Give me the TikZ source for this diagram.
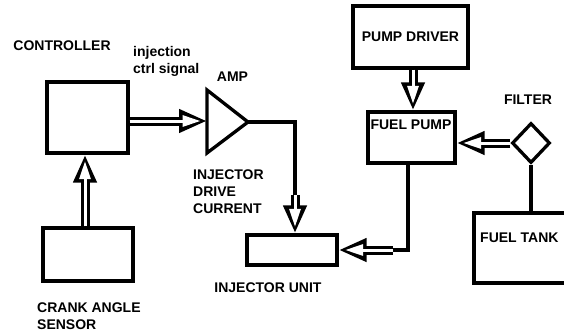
\documentclass[tikz,border=0pt]{standalone}
\usepackage{fontspec}
\setmainfont{Liberation Sans}
\usetikzlibrary{arrows.meta,shapes.geometric}

\begin{document}
\begin{tikzpicture}[x=1pt,y=-1pt,
  box/.style={draw, line width=3.3pt, inner sep=0pt},
  lbl/.style={font=\fontsize{14}{17}\selectfont\bfseries, inner sep=0pt, align=left},
  wire/.style={line width=3.3pt},
  hollow/.style={line width=9pt, -{Triangle[length=28pt, width=22pt]},
    postaction={draw=white, line width=3pt, shorten >=6.5pt, -{Triangle[length=18pt, width=11pt]}}}]
  \useasboundingbox (0,0) rectangle (564,335);
  % blocks
  \node[box, minimum width=81, minimum height=71] (ctrl) at (87.5,117.5) {};
  \node[box, minimum width=90, minimum height=53] (sensor) at (88,254.5) {};
  \node[box, minimum width=90, minimum height=30] (inj) at (292,250) {};
  \node[box, minimum width=115, minimum height=62, lbl] (drv) at (410.5,37) {PUMP DRIVER};
  \node[box, minimum width=87, minimum height=51] (pump) at (411.5,137.5) {};
  \node[box, minimum width=101, minimum height=70] (tank) at (524.5,248) {};
  \node[draw, diamond, aspect=1, line width=3.3pt, inner sep=0pt, minimum width=38, minimum height=40] (filter) at (531,143) {};
  % amplifier
  \draw[line width=3.3pt, line join=miter] (207,90) -- (248,122) coordinate (ampout) -- (207,153) -- cycle;
  \coordinate (ampin) at (207,121);
  % texts
  \node[lbl] (ctrltxt) at (62,46) {CONTROLLER};
  \node[lbl, anchor=west] (sigtxt) at (133,61.5) {injection\\ctrl signal};
  \node[lbl] (amptxt) at (232.5,77) {AMP};
  \node[lbl, anchor=west] (drvtxt) at (193,192) {INJECTOR\\DRIVE\\CURRENT};
  \node[lbl] (injtxt) at (268,288) {INJECTOR UNIT};
  \node[lbl, anchor=west] (senstxt) at (37,316.5) {CRANK ANGLE\\SENSOR};
  \node[lbl] (filtxt) at (528,100) {FILTER};
  \node[lbl] (pumptxt) at (411,125) {FUEL PUMP};
  \node[lbl, anchor=west] (tanktxt) at (480,238) {FUEL TANK};
  % connections
  \draw[hollow] (ctrl.east |- ampin) -- (ampin);
  \draw[hollow] (sensor.north -| 85,0) -- (ctrl.south -| 85,0);
  \coordinate (bend1) at (295,195);
  \draw[wire] (ampout) -| (bend1);
  \draw[hollow] (bend1) -- (bend1 |- inj.north);
  \draw[hollow] (drv.south -| 413,0) -- (pump.north -| 413,0);
  \draw[hollow] (filter.west) -- (filter.west -| pump.east);
  \draw[wire] (filter.south) -- (filter.south |- tank.north);
  \coordinate (bend2) at (393,250);
  \draw[wire] (pump.south -| 408,0) |- (bend2);
  \draw[hollow] (bend2) -- (inj.east);
\end{tikzpicture}
\end{document}
